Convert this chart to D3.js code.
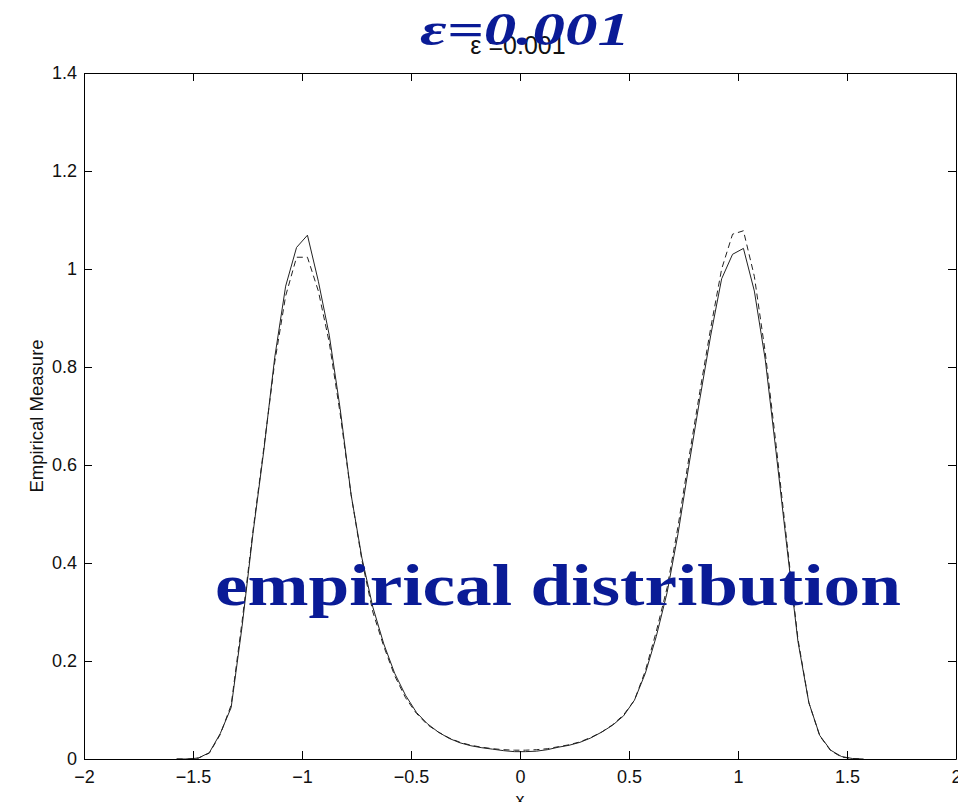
<!DOCTYPE html>
<html>
<head>
<meta charset="utf-8">
<script src="https://cdn.jsdelivr.net/npm/d3@7"></script>
<style>
  html, body { margin: 0; padding: 0; background: #fff; }
  svg { display: block; }
</style>
</head>
<body>
<svg id="chart" width="958" height="802"></svg>
<script>
// Bin centres (step 0.05) and the two empirical measures
const xs = [
  -1.575, -1.525, -1.475, -1.425, -1.375, -1.325, -1.275, -1.225, -1.175, -1.125,
  -1.075, -1.025, -0.975, -0.925, -0.875, -0.825, -0.775, -0.725, -0.675, -0.625,
  -0.575, -0.525, -0.475, -0.425, -0.375, -0.325, -0.275, -0.225, -0.175, -0.125,
  -0.075, -0.025, 0.025, 0.075, 0.125, 0.175, 0.225, 0.275, 0.325, 0.375,
  0.425, 0.475, 0.525, 0.575, 0.625, 0.675, 0.725, 0.775, 0.825, 0.875,
  0.925, 0.975, 1.025, 1.075, 1.125, 1.175, 1.225, 1.275, 1.325, 1.375,
  1.425, 1.475, 1.525, 1.575
];
const solidSeries = [
  0.000, 0.000, 0.002, 0.013, 0.052, 0.105, 0.270, 0.460, 0.630, 0.820,
  0.965, 1.044, 1.069, 0.975, 0.865, 0.715, 0.540, 0.410, 0.310, 0.235,
  0.175, 0.130, 0.095, 0.072, 0.055, 0.042, 0.033, 0.027, 0.023, 0.020,
  0.017, 0.015, 0.015, 0.016, 0.019, 0.024, 0.028, 0.034, 0.043, 0.055,
  0.069, 0.088, 0.120, 0.175, 0.250, 0.340, 0.460, 0.600, 0.735, 0.865,
  0.980, 1.030, 1.042, 0.955, 0.815, 0.625, 0.430, 0.240, 0.115, 0.048,
  0.018, 0.005, 0.001, 0.000
];
const dashedSeries = [
  0.000, 0.000, 0.002, 0.012, 0.050, 0.110, 0.280, 0.465, 0.635, 0.810,
  0.945, 1.024, 1.024, 0.955, 0.850, 0.705, 0.540, 0.405, 0.300, 0.230,
  0.170, 0.125, 0.093, 0.070, 0.055, 0.043, 0.034, 0.028, 0.024, 0.021,
  0.019, 0.018, 0.018, 0.019, 0.021, 0.025, 0.029, 0.035, 0.044, 0.055,
  0.070, 0.090, 0.120, 0.180, 0.260, 0.350, 0.475, 0.615, 0.750, 0.880,
  1.000, 1.071, 1.078, 0.985, 0.830, 0.640, 0.440, 0.245, 0.115, 0.047,
  0.017, 0.004, 0.001, 0.000
];
const xTicks = [-2, -1.5, -1, -0.5, 0, 0.5, 1, 1.5, 2];
const yTicks = [0, 0.2, 0.4, 0.6, 0.8, 1, 1.2, 1.4];
const xTickLabels = ["\u22122", "\u22121.5", "\u22121", "\u22120.5", "0", "0.5", "1", "1.5", "2"];
const yTickLabels = ["0", "0.2", "0.4", "0.6", "0.8", "1", "1.2", "1.4"];

const svg = d3.select("#chart");
const margin = { left: 84, right: 2, top: 73, bottom: 43 };
const W = 958, H = 802;
const x = d3.scaleLinear().domain([-2, 2]).range([margin.left, W - margin.right]);
const y = d3.scaleLinear().domain([0, 1.4]).range([H - margin.bottom, margin.top]);

const tickFont = "Liberation Sans, Arial, Helvetica, sans-serif";
const tickSize = 18;

// Curves
const line = d3.line().x(d => x(d[0])).y(d => y(d[1]));
svg.append("path")
  .datum(xs.map((v, i) => [v, dashedSeries[i]]))
  .attr("d", line).attr("fill", "none")
  .attr("stroke", "#222").attr("stroke-width", 1)
  .attr("stroke-dasharray", "6,4");
svg.append("path")
  .datum(xs.map((v, i) => [v, solidSeries[i]]))
  .attr("d", line).attr("fill", "none")
  .attr("stroke", "#222").attr("stroke-width", 1);

// Axes (ticks pointing inward, boxed like a MATLAB figure)
const tickLen = 8;
const gBottom = svg.append("g").attr("transform", `translate(0,${y(0)})`)
  .call(d3.axisBottom(x).tickValues(xTicks).tickSizeInner(-tickLen).tickSizeOuter(0)
    .tickPadding(11).tickFormat((d, i) => xTickLabels[i]));
const gTop = svg.append("g").attr("transform", `translate(0,${y(1.4)})`)
  .call(d3.axisTop(x).tickValues(xTicks).tickSizeInner(-tickLen).tickSizeOuter(0).tickFormat(""));
const gLeft = svg.append("g").attr("transform", `translate(${x(-2)},0)`)
  .call(d3.axisLeft(y).tickValues(yTicks).tickSizeInner(-tickLen).tickSizeOuter(0)
    .tickPadding(7).tickFormat((d, i) => yTickLabels[i]));
const gRight = svg.append("g").attr("transform", `translate(${x(2)},0)`)
  .call(d3.axisRight(y).tickValues(yTicks).tickSizeInner(-tickLen).tickSizeOuter(0).tickFormat(""));

[gBottom, gTop, gLeft, gRight].forEach(g => {
  g.selectAll("path.domain").attr("stroke", "#000").attr("stroke-width", 1);
  g.selectAll(".tick line").attr("stroke", "#000").attr("stroke-width", 1);
  g.selectAll("text").attr("font-family", tickFont).attr("font-size", tickSize).attr("fill", "#111");
});
gBottom.selectAll("text").attr("dy", "0.71em");

// Axis labels and title
svg.append("text")
  .attr("x", x(0)).attr("y", 806)
  .attr("text-anchor", "middle")
  .attr("font-family", tickFont).attr("font-size", tickSize).attr("fill", "#111")
  .text("x");
svg.append("text")
  .attr("transform", `translate(43,${(y(0) + y(1.4)) / 2}) rotate(-90)`)
  .attr("text-anchor", "middle")
  .attr("font-family", tickFont).attr("font-size", 18.5).attr("fill", "#111")
  .text("Empirical Measure");
svg.append("text")
  .attr("x", 518).attr("y", 54)
  .attr("text-anchor", "middle")
  .attr("font-family", tickFont).attr("font-size", 25).attr("fill", "#111")
  .text("\u03b5 =0.001");

// Blue annotations
const blue = "#0a1b96";
svg.append("text")
  .attr("x", 420).attr("y", 45)
  .attr("font-family", "Liberation Serif, DejaVu Serif, serif")
  .attr("font-weight", "bold").attr("font-style", "italic")
  .attr("font-size", 46).attr("fill", blue)
  .attr("textLength", 210).attr("lengthAdjust", "spacingAndGlyphs")
  .text("\u03b5=0.001");
svg.append("text")
  .attr("x", 215).attr("y", 605)
  .attr("font-family", "Liberation Serif, DejaVu Serif, serif")
  .attr("font-weight", "bold")
  .attr("font-size", 60).attr("fill", blue)
  .attr("textLength", 686).attr("lengthAdjust", "spacingAndGlyphs")
  .text("empirical distribution");
</script>
</body>
</html>
